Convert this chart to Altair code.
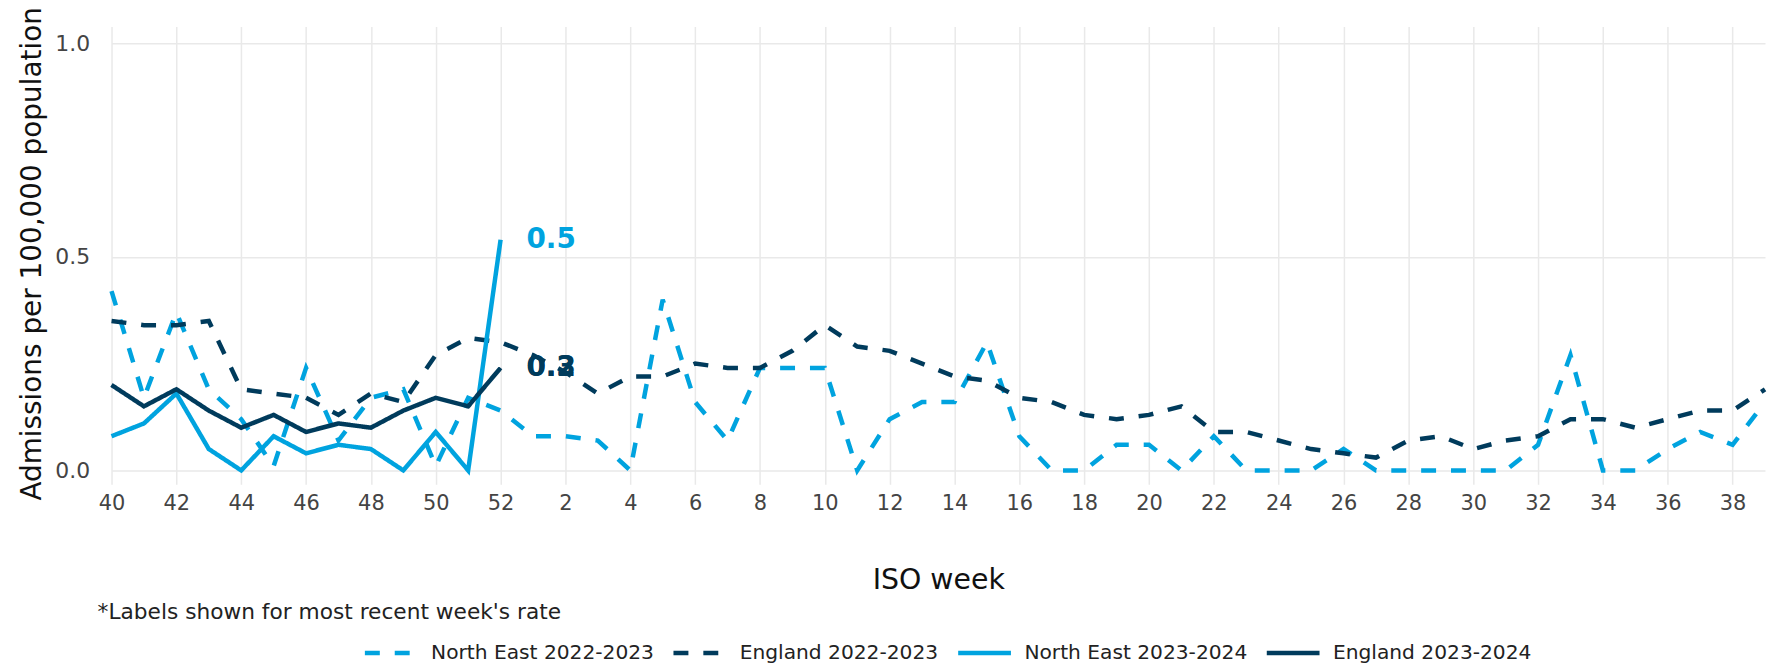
import altair as alt
import pandas as pd

# ISO weeks in season order (week 40 to week 39)
weeks = [str(w) for w in list(range(40, 53)) + list(range(1, 40))]
tick_weeks = weeks[0::2]

series_names = ["North East 2022-2023", "England 2022-2023",
                "North East 2023-2024", "England 2023-2024"]
series_colors = ["#00A3DF", "#003B5C", "#00A3DF", "#003B5C"]
series_dashes = [[15, 15], [15, 15], [1, 0], [1, 0]]
series_widths = [4.5, 4.5, 5.2, 5.2]

ne_2223 = [0.42, 0.17, 0.37, 0.19, 0.12, 0.01, 0.24, 0.07, 0.17, 0.19, 0.01, 0.17, 0.14,
           0.08, 0.08, 0.07, 0.00, 0.40, 0.16, 0.07, 0.24, 0.24, 0.24, 0.00, 0.12, 0.16,
           0.16, 0.30, 0.08, 0.00, 0.00, 0.06, 0.06, 0.00, 0.08, 0.00, 0.00, 0.00, 0.05,
           0.00, 0.00, 0.00, 0.00, 0.00, 0.06, 0.27, 0.00, 0.00, 0.05, 0.09, 0.06, 0.16]
eng_2223 = [0.35, 0.34, 0.34, 0.35, 0.19, 0.18, 0.17, 0.13, 0.18, 0.16, 0.27, 0.31, 0.30,
            0.27, 0.23, 0.18, 0.22, 0.22, 0.25, 0.24, 0.24, 0.28, 0.34, 0.29, 0.28, 0.25,
            0.22, 0.21, 0.17, 0.16, 0.13, 0.12, 0.13, 0.15, 0.09, 0.09, 0.07, 0.05, 0.04,
            0.03, 0.07, 0.08, 0.05, 0.07, 0.08, 0.12, 0.12, 0.10, 0.12, 0.14, 0.14, 0.19]
ne_2324 = [0.08, 0.11, 0.18, 0.05, 0.00, 0.08, 0.04, 0.06, 0.05, 0.00, 0.09, 0.00, 0.54]
eng_2324 = [0.20, 0.15, 0.19, 0.14, 0.10, 0.13, 0.09, 0.11, 0.10, 0.14, 0.17, 0.15, 0.24]

# labels for the most recent week
label_series = ["North East 2023-2024", "England 2023-2024", "England 2023-2024"]
label_week = ["52", "52", "52"]
label_value = [0.54, 0.24, 0.24]
label_text = ["0.5", "0.3", "0.2"]
label_color = ["#00A3DF", "#003B5C", "#003B5C"]

footnote = "*Labels shown for most recent week's rate"

rows = []
for name, vals in zip(series_names, [ne_2223, eng_2223, ne_2324, eng_2324]):
    for i, v in enumerate(vals):
        rows.append({"series": name, "week": weeks[i], "order": i, "rate": v})
df = pd.DataFrame(rows)

lab = pd.DataFrame({"series": label_series, "week": label_week,
                    "rate": label_value, "text": label_text, "col": label_color})
note = pd.DataFrame({"text": [footnote]})

FONT = "DejaVu Sans"
xscale = alt.Scale(type="point", domain=weeks, range=[20, 1681], padding=0)

x_enc = alt.X("week:O", sort=weeks, scale=xscale,
              axis=alt.Axis(values=tick_weeks, labelAngle=0, title="ISO week",
                            titleFontSize=28.5, titleFontWeight="normal", titleColor="#111",
                            titleY=96, titleBaseline="middle",
                            labelFontSize=21, labelColor="#444", labelPadding=8,
                            grid=True, domain=False, ticks=False, tickSize=0))
y_enc = alt.Y("rate:Q",
              scale=alt.Scale(domain=[-0.0326, 1.0396], nice=False, zero=False),
              axis=alt.Axis(values=[0, 0.5, 1.0], format=".1f",
                            title="Admissions per 100,000 population",
                            titleFontSize=28, titleFontWeight="normal", titleColor="#111",
                            titleX=-51, titleY=228, titleBaseline="alphabetic",
                            titleAlign="center", titleAngle=270,
                            labelFontSize=22, labelColor="#444", labelPadding=2,
                            grid=True, domain=False, ticks=False, tickSize=0))

leg = alt.Legend(title=None, orient="none", direction="horizontal",
                 legendX=272, legendY=600, symbolType="stroke", symbolSize=2809,
                 symbolStrokeWidth=4.5, labelFontSize=20.3, labelColor="#222",
                 labelFont=FONT, labelOffset=11, columnPadding=10, padding=0,
                 labelLimit=0)

lines = alt.Chart(df).mark_line(strokeCap="butt").encode(
    x=x_enc, y=y_enc,
    color=alt.Color("series:N", scale=alt.Scale(domain=series_names, range=series_colors),
                    legend=leg),
    strokeDash=alt.StrokeDash("series:N",
                              scale=alt.Scale(domain=series_names, range=series_dashes),
                              legend=leg),
    strokeWidth=alt.StrokeWidth("series:N",
                                scale=alt.Scale(domain=series_names, range=series_widths),
                                legend=None),
    order=alt.Order("order:Q"),
)

labels = alt.Chart(lab).mark_text(align="left", baseline="middle", dx=26,
                                  fontSize=28, fontWeight="bold", font=FONT).encode(
    x=alt.X("week:O", sort=weeks, scale=xscale),
    y=alt.Y("rate:Q"),
    text="text:N",
    color=alt.Color("col:N", scale=None),
)

foot = alt.Chart(note).mark_text(align="left", baseline="middle", fontSize=21.8,
                                 font=FONT, color="#222").encode(
    x=alt.value(6), y=alt.value(588), text="text:N")

chart = alt.layer(lines, labels, foot).properties(
    width=1683, height=460,
    padding={"left": 84, "top": 17, "right": 0, "bottom": 179},
    autosize=alt.AutoSizeParams(type="none"),
).configure(font=FONT).configure_view(stroke=None).configure_axis(
    gridColor="#e9e9e9", gridWidth=1.5, labelFont=FONT, titleFont=FONT)

chart.save("out.html", embed_options={"renderer": "svg", "actions": False})
